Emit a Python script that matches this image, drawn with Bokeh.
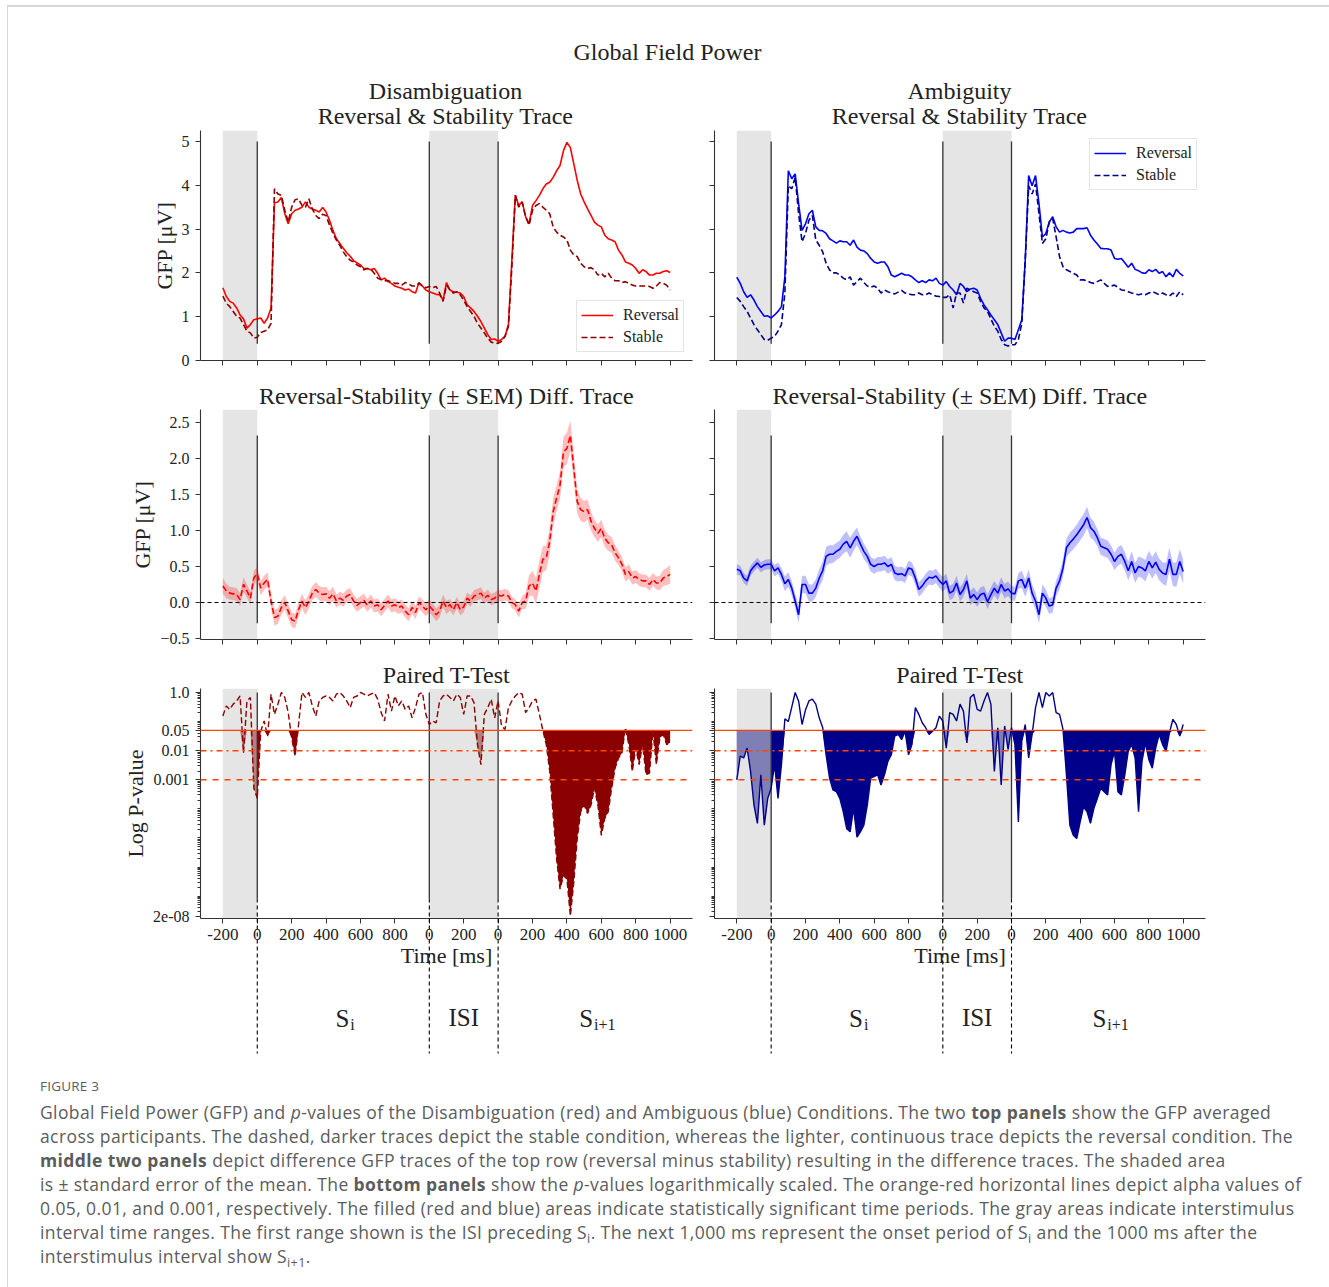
import numpy as np
from bokeh.plotting import figure
from bokeh.models import (Range1d, FixedTicker, BoxAnnotation, Span,
                          CustomJSTickFormatter, CustomLabelingPolicy, Div)
from bokeh.layouts import column, row
from bokeh.embed import file_html
from bokeh.resources import INLINE
from bokeh.core.properties import value

# ---------------------------------------------------------------- data
# concatenated time axis: ISI before S_i (-200..0), S_i (0..1000), ISI (1000..1400), S_i+1 (1400..2400)
time_ms = list(range(-200, 2401, 20))

x_tick_values = list(range(-200, 2401, 200))
x_tick_labels = ["-200", "0", "200", "400", "600", "800", "0", "200",
                 "0", "200", "400", "600", "800", "1000"]
isi_spans = [(-200, 0), (1000, 1400)]
phase_onsets = [0, 1000, 1400]
phase_names = [("S", "i", 500), ("ISI", "", 1200), ("S", "i+1", 1900)]
alpha_levels = [0.05, 0.01, 0.001]

gfp_reversal_disamb = [
    1.66, 1.46, 1.35, 1.31, 1.20, 1.04, 0.95, 0.74, 0.82, 0.93,
    0.95, 0.97, 0.85, 0.97, 1.20, 3.60, 3.62, 3.72, 3.35, 3.12,
    3.35, 3.43, 3.46, 3.50, 3.62, 3.50, 3.46, 3.43, 3.39, 3.49,
    3.39, 3.20, 2.97, 2.78, 2.67, 2.56, 2.46, 2.38, 2.28, 2.23,
    2.18, 2.10, 2.10, 2.07, 2.10, 1.99, 1.84, 1.88, 1.80, 1.76,
    1.70, 1.67, 1.65, 1.61, 1.63, 1.57, 1.54, 1.78, 1.70, 1.61,
    1.57, 1.54, 1.51, 1.50, 1.38, 1.78, 1.61, 1.57, 1.56, 1.54,
    1.46, 1.27, 1.20, 1.12, 1.01, 0.89, 0.74, 0.59, 0.48, 0.49,
    0.44, 0.48, 0.55, 0.82, 2.29, 3.77, 3.54, 3.62, 3.28, 3.12,
    3.54, 3.65, 3.77, 3.92, 4.03, 4.07, 4.18, 4.33, 4.45, 4.79,
    4.98, 4.86, 4.49, 4.11, 3.80, 3.62, 3.46, 3.31, 3.16, 3.09,
    3.05, 2.86, 2.78, 2.75, 2.71, 2.52, 2.41, 2.25, 2.22, 2.18,
    2.10, 1.99, 2.07, 2.03, 1.95, 1.95, 1.99, 1.99, 2.03, 2.05,
    2.01]
gfp_stable_disamb = [
    1.47, 1.31, 1.23, 1.12, 1.01, 0.97, 0.82, 0.67, 0.63, 0.51,
    0.53, 0.64, 0.67, 0.70, 0.85, 3.92, 3.80, 3.77, 3.43, 3.16,
    3.50, 3.67, 3.69, 3.54, 3.50, 3.69, 3.46, 3.31, 3.24, 3.34,
    3.31, 3.09, 2.90, 2.75, 2.63, 2.48, 2.37, 2.29, 2.25, 2.18,
    2.14, 2.07, 2.10, 2.08, 1.99, 1.88, 1.85, 1.82, 1.82, 1.80,
    1.76, 1.76, 1.72, 1.78, 1.75, 1.70, 1.70, 1.76, 1.70, 1.66,
    1.69, 1.66, 1.69, 1.54, 1.35, 1.72, 1.61, 1.54, 1.57, 1.50,
    1.38, 1.23, 1.12, 1.01, 0.85, 0.74, 0.63, 0.51, 0.42, 0.40,
    0.39, 0.44, 0.55, 0.78, 2.14, 3.77, 3.50, 3.62, 3.28, 3.09,
    3.43, 3.54, 3.58, 3.50, 3.43, 3.35, 3.05, 2.93, 2.86, 2.82,
    2.75, 2.52, 2.41, 2.37, 2.22, 2.14, 2.10, 2.12, 2.07, 1.95,
    1.99, 1.91, 1.99, 1.88, 1.82, 1.82, 1.78, 1.80, 1.76, 1.72,
    1.70, 1.70, 1.70, 1.70, 1.69, 1.65, 1.70, 1.78, 1.76, 1.72,
    1.61]
gfp_reversal_amb = [
    1.90, 1.76, 1.57, 1.44, 1.50, 1.38, 1.23, 1.12, 1.01, 1.02,
    0.97, 1.04, 1.12, 1.23, 1.91, 4.33, 4.15, 4.26, 3.58, 2.97,
    3.12, 3.35, 3.43, 3.05, 2.97, 2.96, 2.90, 2.78, 2.73, 2.68,
    2.73, 2.71, 2.71, 2.63, 2.75, 2.59, 2.52, 2.50, 2.44, 2.33,
    2.25, 2.22, 2.25, 2.25, 2.14, 1.95, 1.91, 1.95, 1.99, 1.95,
    1.95, 1.91, 1.84, 1.78, 1.82, 1.78, 1.84, 1.82, 1.88, 1.76,
    1.72, 1.80, 1.69, 1.61, 1.50, 1.76, 1.69, 1.57, 1.63, 1.65,
    1.61, 1.42, 1.27, 1.16, 1.04, 0.93, 0.82, 0.63, 0.44, 0.51,
    0.51, 0.48, 0.70, 0.93, 2.29, 4.22, 3.99, 4.22, 3.58, 2.82,
    2.90, 3.16, 3.28, 3.05, 2.93, 2.97, 2.93, 2.91, 2.93, 3.01,
    3.01, 3.01, 3.03, 2.86, 2.75, 2.66, 2.56, 2.55, 2.55, 2.52,
    2.33, 2.31, 2.33, 2.23, 2.13, 2.22, 2.08, 2.05, 2.00, 1.99,
    2.07, 2.03, 2.08, 1.99, 2.03, 1.91, 2.00, 1.91, 2.08, 1.99,
    1.93]
gfp_stable_amb = [
    1.44, 1.35, 1.23, 1.12, 0.97, 0.82, 0.70, 0.59, 0.48, 0.46,
    0.51, 0.55, 0.67, 0.82, 1.54, 3.99, 3.92, 4.18, 3.35, 2.71,
    2.90, 3.20, 3.31, 2.75, 2.63, 2.48, 2.22, 2.07, 2.00, 2.00,
    1.95, 1.88, 1.84, 1.91, 1.72, 1.80, 1.88, 1.78, 1.70, 1.67,
    1.70, 1.65, 1.54, 1.61, 1.57, 1.54, 1.52, 1.56, 1.60, 1.54,
    1.52, 1.50, 1.50, 1.54, 1.50, 1.50, 1.54, 1.50, 1.47, 1.46,
    1.44, 1.44, 1.50, 1.20, 1.54, 1.54, 1.31, 1.65, 1.61, 1.57,
    1.54, 1.35, 1.20, 1.12, 0.95, 0.78, 0.67, 0.48, 0.36, 0.33,
    0.36, 0.36, 0.48, 0.85, 2.29, 3.99, 3.80, 4.03, 3.35, 2.67,
    2.78, 3.16, 3.24, 2.82, 2.37, 2.14, 2.07, 2.03, 1.99, 1.95,
    1.84, 1.84, 1.82, 1.78, 1.76, 1.80, 1.84, 1.76, 1.69, 1.70,
    1.72, 1.67, 1.61, 1.60, 1.57, 1.54, 1.52, 1.50, 1.52, 1.50,
    1.54, 1.57, 1.54, 1.50, 1.54, 1.50, 1.47, 1.54, 1.46, 1.57,
    1.50]

diff_disamb = [
    0.23, 0.16, 0.13, 0.12, 0.11, 0.04, 0.25, 0.16, 0.06, 0.34,
    0.40, 0.20, 0.27, 0.32, 0.02, -0.21, -0.19, -0.07, 0.00, -0.12,
    -0.24, -0.26, -0.10, 0.02, -0.07, 0.02, 0.13, 0.18, 0.13, 0.11,
    0.12, 0.06, 0.12, 0.02, 0.06, 0.03, 0.09, 0.11, 0.02, -0.04,
    0.00, 0.03, -0.04, 0.02, -0.05, -0.03, -0.10, -0.04, 0.02, -0.05,
    -0.03, -0.07, -0.05, -0.12, -0.17, -0.07, -0.14, 0.00, -0.05, -0.10,
    -0.05, -0.10, -0.17, -0.12, 0.02, -0.07, -0.03, -0.10, 0.00, -0.10,
    -0.06, 0.06, 0.02, 0.09, 0.11, 0.13, 0.06, 0.10, 0.04, 0.06,
    0.10, 0.09, 0.11, 0.09, 0.00, -0.03, -0.12, 0.00, 0.02, 0.23,
    0.27, 0.16, 0.39, 0.60, 0.62, 0.85, 1.26, 1.45, 1.63, 2.09,
    2.14, 2.32, 1.86, 1.40, 1.29, 1.26, 1.29, 1.13, 1.03, 0.96,
    1.03, 0.89, 0.83, 0.80, 0.69, 0.62, 0.53, 0.39, 0.43, 0.34,
    0.36, 0.32, 0.30, 0.30, 0.25, 0.32, 0.27, 0.27, 0.34, 0.36,
    0.39]
sem_disamb = [
    0.11, 0.10, 0.09, 0.09, 0.09, 0.09, 0.10, 0.09, 0.09, 0.10,
    0.10, 0.10, 0.10, 0.10, 0.10, 0.11, 0.11, 0.10, 0.10, 0.10,
    0.10, 0.10, 0.10, 0.10, 0.10, 0.10, 0.10, 0.10, 0.10, 0.10,
    0.10, 0.10, 0.10, 0.09, 0.09, 0.09, 0.09, 0.09, 0.09, 0.09,
    0.09, 0.09, 0.09, 0.09, 0.09, 0.09, 0.09, 0.09, 0.09, 0.09,
    0.09, 0.09, 0.09, 0.09, 0.09, 0.09, 0.09, 0.09, 0.09, 0.09,
    0.09, 0.09, 0.09, 0.09, 0.09, 0.09, 0.08, 0.08, 0.08, 0.08,
    0.08, 0.08, 0.08, 0.08, 0.08, 0.08, 0.08, 0.08, 0.08, 0.08,
    0.08, 0.08, 0.08, 0.08, 0.08, 0.08, 0.09, 0.09, 0.11, 0.15,
    0.17, 0.18, 0.19, 0.18, 0.17, 0.18, 0.19, 0.18, 0.19, 0.21,
    0.22, 0.21, 0.19, 0.17, 0.16, 0.15, 0.14, 0.13, 0.12, 0.12,
    0.12, 0.12, 0.11, 0.11, 0.11, 0.10, 0.10, 0.10, 0.10, 0.09,
    0.09, 0.09, 0.09, 0.09, 0.09, 0.09, 0.09, 0.10, 0.11, 0.12,
    0.13]
diff_amb = [
    0.46, 0.44, 0.34, 0.30, 0.44, 0.50, 0.55, 0.49, 0.52, 0.53,
    0.53, 0.44, 0.48, 0.39, 0.26, 0.32, 0.20, 0.02, -0.17, 0.25,
    0.25, 0.13, 0.13, 0.20, 0.34, 0.44, 0.64, 0.67, 0.67, 0.71,
    0.74, 0.81, 0.85, 0.76, 0.85, 0.92, 0.81, 0.71, 0.64, 0.53,
    0.50, 0.53, 0.53, 0.55, 0.50, 0.53, 0.41, 0.39, 0.40, 0.37,
    0.48, 0.46, 0.34, 0.18, 0.23, 0.30, 0.35, 0.34, 0.37, 0.30,
    0.25, 0.30, 0.13, 0.16, 0.27, 0.11, 0.18, 0.30, 0.06, 0.11,
    0.04, 0.11, 0.13, 0.01, 0.11, 0.20, 0.13, 0.25, 0.16, 0.19,
    0.13, 0.12, 0.30, 0.32, 0.20, 0.34, 0.13, 0.02, -0.17, 0.13,
    0.06, -0.05, -0.03, 0.20, 0.30, 0.48, 0.76, 0.83, 0.88, 0.94,
    1.01, 1.08, 1.18, 1.04, 0.99, 0.90, 0.78, 0.76, 0.74, 0.67,
    0.57, 0.64, 0.67, 0.57, 0.44, 0.57, 0.41, 0.50, 0.48, 0.44,
    0.57, 0.48, 0.56, 0.46, 0.41, 0.39, 0.60, 0.39, 0.39, 0.57,
    0.43]
sem_amb = [
    0.07, 0.07, 0.07, 0.07, 0.07, 0.07, 0.07, 0.07, 0.07, 0.07,
    0.07, 0.08, 0.08, 0.09, 0.10, 0.10, 0.10, 0.10, 0.12, 0.12,
    0.12, 0.12, 0.12, 0.12, 0.12, 0.13, 0.13, 0.13, 0.12, 0.12,
    0.12, 0.13, 0.14, 0.14, 0.13, 0.12, 0.11, 0.11, 0.10, 0.10,
    0.10, 0.10, 0.10, 0.10, 0.10, 0.10, 0.10, 0.10, 0.10, 0.10,
    0.10, 0.10, 0.10, 0.10, 0.10, 0.10, 0.10, 0.10, 0.10, 0.10,
    0.10, 0.10, 0.10, 0.10, 0.10, 0.10, 0.10, 0.10, 0.10, 0.10,
    0.10, 0.10, 0.10, 0.10, 0.10, 0.10, 0.10, 0.10, 0.10, 0.10,
    0.10, 0.10, 0.11, 0.12, 0.12, 0.12, 0.12, 0.12, 0.12, 0.12,
    0.12, 0.11, 0.11, 0.11, 0.12, 0.12, 0.13, 0.14, 0.14, 0.14,
    0.15, 0.15, 0.15, 0.14, 0.13, 0.12, 0.12, 0.12, 0.12, 0.12,
    0.12, 0.13, 0.13, 0.13, 0.13, 0.14, 0.14, 0.14, 0.14, 0.15,
    0.15, 0.15, 0.15, 0.15, 0.15, 0.16, 0.16, 0.16, 0.17, 0.17,
    0.17]

log10_p_disamb = [
    -0.81, -0.46, -0.58, -0.40, -0.29, -0.12, -2.08, -0.29, -0.17, -3.29,
    -3.64, -1.33, -0.98, -1.50, -0.06, -0.75, -0.40, 0.00, -0.17, -0.69,
    -1.56, -2.19, -1.10, 0.00, -0.17, 0.00, -0.46, -0.81, -0.29, -0.17,
    -0.12, -0.17, -0.29, -0.06, 0.00, -0.12, -0.29, -0.52, -0.17, -0.12,
    0.00, -0.06, -0.12, -0.06, 0.00, -0.23, -0.69, -0.98, -0.06, -0.64,
    -0.12, -0.46, -0.29, -0.58, -0.46, -0.87, -0.52, -0.06, 0.00, -0.75,
    -1.10, -0.98, -1.04, -0.29, -0.12, -0.06, -0.17, -0.29, -0.06, -0.17,
    -0.75, -0.12, -0.12, -0.35, -1.79, -2.48, -0.75, -0.52, -0.23, -0.87,
    -0.29, -1.15, -1.27, -0.52, -0.29, -0.12, 0.00, -0.06, -0.69, -0.52,
    -0.29, -0.23, -0.75, -1.30, -1.79, -2.71, -4.21, -5.72, -6.76, -6.29,
    -6.41, -7.68, -6.52, -5.02, -4.10, -3.87, -4.16, -3.87, -3.29, -3.87,
    -4.91, -4.33, -4.10, -3.29, -2.60, -2.25, -2.08, -1.21, -1.79, -2.71,
    -1.91, -2.48, -1.79, -2.83, -2.77, -1.33, -2.48, -1.56, -1.44, -1.79,
    -1.73]
log10_p_amb = [
    -3.00, -2.19, -2.25, -1.91, -2.71, -3.87, -4.50, -2.83, -4.56, -3.64,
    -3.29, -2.48, -3.64, -2.48, -0.90, -1.00, -0.50, 0.00, -0.30, -1.10,
    -0.60, -0.29, -0.23, -0.40, -0.87, -1.20, -2.14, -2.94, -3.35, -3.41,
    -3.64, -4.10, -4.68, -4.79, -3.98, -4.97, -4.79, -4.56, -3.87, -2.94,
    -2.89, -2.83, -3.18, -2.83, -2.37, -2.14, -1.50, -1.44, -1.62, -1.33,
    -2.14, -1.79, -0.52, -0.75, -1.04, -1.21, -1.44, -1.33, -1.21, -0.81,
    -0.98, -1.91, -0.69, -0.75, -0.98, -0.40, -0.64, -1.73, -0.17, -0.06,
    -0.58, -0.64, -0.29, 0.00, -0.40, -2.71, -1.21, -3.18, -1.15, -1.96,
    -1.21, -1.79, -4.45, -1.67, -1.10, -2.25, -1.44, -0.52, 0.00, -0.52,
    0.00, -0.12, 0.00, -0.69, -0.75, -1.27, -2.83, -4.56, -4.91, -5.02,
    -4.45, -3.93, -4.10, -4.50, -3.98, -3.64, -3.29, -3.41, -3.52, -2.48,
    -2.02, -3.41, -3.52, -2.83, -2.02, -1.79, -2.25, -4.10, -2.37, -1.73,
    -2.31, -2.60, -1.91, -1.44, -1.79, -2.02, -1.39, -0.92, -1.10, -1.50,
    -1.10]

for arr in (gfp_reversal_disamb, gfp_stable_disamb, gfp_reversal_amb, gfp_stable_amb,
            diff_disamb, sem_disamb, diff_amb, sem_amb, log10_p_disamb, log10_p_amb):
    assert len(arr) == len(time_ms), len(arr)

SUB = '<sub style="font-size:0.72em; line-height:0; vertical-align:-0.3em;">%s</sub>'
caption_lines = [
    "Global Field Power (GFP) and <i>p</i>-values of the Disambiguation (red) and Ambiguous (blue) "
    "Conditions. The two <b>top panels</b> show the GFP averaged",
    "across participants. The dashed, darker traces depict the stable condition, whereas the lighter, "
    "continuous trace depicts the reversal condition. The",
    "<b>middle two panels</b> depict difference GFP traces of the top row (reversal minus stability) "
    "resulting in the difference traces. The shaded area",
    "is &plusmn; standard error of the mean. The <b>bottom panels</b> show the <i>p</i>-values "
    "logarithmically scaled. The orange-red horizontal lines depict alpha values of",
    "0.05, 0.01, and 0.001, respectively. The filled (red and blue) areas indicate statistically "
    "significant time periods. The gray areas indicate interstimulus",
    "interval time ranges. The first range shown is the ISI preceding S" + SUB % "i" + ". The next 1,000 ms "
    "represent the onset period of S" + SUB % "i" + " and the 1000 ms after the",
    "interstimulus interval show S" + SUB % "i+1" + ".",
]

# ---------------------------------------------------------------- style
SERIF = "Liberation Serif"
INK = "#222222"
AXC = "#333333"
TITLE_SIZE = "24px"
X_RANGE = (-330, 2530)
TOP_RANGE = (0, 5.25)
MID_RANGE = (-0.514, 2.68)
P_RANGE = (1.706e-8, 1.372)
FRAME_H = 230
STRIP_H = 147          # annotation strip below the bottom panels (frame bottom -> caption)
DASH_TOP = 20          # dashed phase lines start this many px above the bottom frame edge
DASH_END = 135         # ... and end this many px below it
NO_LABELS = "return new Set()"


def fmt(vals, labs):
    return CustomJSTickFormatter(args=dict(vals=vals, labs=labs), code="""
        for (let i = 0; i < vals.length; i++) {
            if (Math.abs(vals[i] - tick) <= Math.abs(vals[i]) * 1e-6 + 1e-15) { return labs[i]; }
        }
        return "";
    """)


def hide_labels(ax):
    ax.major_label_policy = CustomLabelingPolicy(code=NO_LABELS)
    ax.major_label_text_font_size = "1px"
    ax.major_label_standoff = 0


def p_at_px_above_bottom(px):
    lo, hi = np.log10(P_RANGE[0]), np.log10(P_RANGE[1])
    return float(10 ** (lo + px * (hi - lo) / FRAME_H))


def make_panel(col, kind):
    left = (col == 0)
    if kind == "top":
        yr, bt, bb, ytype = Range1d(*TOP_RANGE), 1, 10, "linear"
    elif kind == "mid":
        yr, bt, bb, ytype = Range1d(*MID_RANGE), 39, 9, "linear"
    else:
        yr, bt, bb, ytype = Range1d(*P_RANGE), 40, STRIP_H, "log"
    p = figure(frame_width=492 if left else 491, frame_height=FRAME_H,
               x_range=Range1d(*X_RANGE), y_range=yr, y_axis_type=ytype,
               min_border_left=192 if left else 14, min_border_right=8 if left else 116,
               min_border_top=bt, min_border_bottom=bb,
               toolbar_location=None, output_backend="svg",
               outline_line_color=None, background_fill_color="white",
               border_fill_color="white")
    p.grid.visible = False
    for ax in (p.xaxis[0], p.yaxis[0]):
        ax.axis_line_color = AXC
        ax.axis_line_width = 1.1
        ax.major_tick_line_color = AXC
        ax.minor_tick_line_color = AXC
        ax.major_tick_out = 5
        ax.major_tick_in = 0
        ax.minor_tick_out = 3
        ax.minor_tick_in = 0
        ax.major_label_text_font = SERIF
        ax.major_label_text_font_size = "16px"
        ax.major_label_text_color = INK
        ax.axis_label_text_font = SERIF
        ax.axis_label_text_font_size = "22px"
        ax.axis_label_text_font_style = "normal"
        ax.axis_label_text_color = INK
    p.xaxis.ticker = FixedTicker(ticks=x_tick_values, minor_ticks=[])
    p.xaxis.formatter = fmt(x_tick_values, x_tick_labels)
    if kind == "bottom":
        p.xaxis.major_label_text_font_size = "17px"
        p.xaxis.major_label_standoff = 5
        p.xaxis.axis_label = "Time [ms]"
        p.xaxis.axis_label_standoff = 0
    else:
        hide_labels(p.xaxis[0])

    if kind == "top":
        yv = [0, 1, 2, 3, 4, 5]
        yl = ["0", "1", "2", "3", "4", "5"]
        p.yaxis.ticker = FixedTicker(ticks=yv, minor_ticks=[])
        ylabel = "GFP [\u03bcV]"
        vext = (0.38, 5.0)
    elif kind == "mid":
        yv = [-0.5, 0, 0.5, 1.0, 1.5, 2.0, 2.5]
        yl = ["\u22120.5", "0.0", "0.5", "1.0", "1.5", "2.0", "2.5"]
        p.yaxis.ticker = FixedTicker(ticks=yv, minor_ticks=[])
        ylabel = "GFP [\u03bcV]"
        vext = (-0.29, 2.32)
    else:
        yv = [2e-8, 0.001, 0.01, 0.05, 1.0]
        yl = ["2e-08", "0.001", "0.01", "0.05", "1.0"]
        minors = [m * 10.0 ** k for k in range(-8, 1) for m in range(1, 10)
                  if P_RANGE[0] < m * 10.0 ** k < P_RANGE[1]]
        minors = [v for v in minors if all(abs(v - t) > 1e-6 * t for t in yv)]
        p.yaxis.ticker = FixedTicker(ticks=yv, minor_ticks=minors)
        ylabel = "Log P-value"
        vext = (p_at_px_above_bottom(DASH_TOP), 1.0)
    p.yaxis.formatter = fmt(yv, yl)
    if left:
        p.yaxis.major_label_standoff = 6
        p.yaxis.axis_label = ylabel
        p.yaxis.axis_label_standoff = 2
    else:
        hide_labels(p.yaxis[0])

    # interstimulus intervals
    for a, b in isi_spans:
        p.add_layout(BoxAnnotation(left=a, right=b, fill_color="#d3d3d3", fill_alpha=0.6,
                                   line_color=None, level="underlay"))
    # stimulus / ISI onsets
    p.segment(x0=phase_onsets, y0=[vext[0]] * 3, x1=phase_onsets, y1=[vext[1]] * 3,
              line_color=AXC, line_width=1.3)

    if kind == "top":
        rev, stb = (gfp_reversal_disamb, gfp_stable_disamb) if left else (gfp_reversal_amb, gfp_stable_amb)
        c_rev, c_stb = ("#FF0000", "#8B0000") if left else ("#0000FF", "#00008B")
        p.line(time_ms, rev, line_color=c_rev, line_width=1.6, legend_label="Reversal")
        p.line(time_ms, stb, line_color=c_stb, line_width=1.6, line_dash="6 3", legend_label="Stable")
        lg = p.legend[0]
        lg.location = "bottom_right" if left else "top_right"
        lg.margin = 8
        lg.padding = 4
        lg.spacing = 2
        lg.label_height = 20
        lg.glyph_height = 20
        lg.glyph_width = 32
        lg.label_standoff = 10
        lg.label_text_font = SERIF
        lg.label_text_font_size = "16px"
        lg.label_text_color = INK
        lg.border_line_color = "#cccccc"
        lg.background_fill_alpha = 0.8
    elif kind == "mid":
        mean = np.array(diff_disamb if left else diff_amb)
        sem = np.array(sem_disamb if left else sem_amb)
        c = "#FF0000" if left else "#0000FF"
        p.varea(x=time_ms, y1=mean - sem, y2=mean + sem, fill_color=c, fill_alpha=0.25)
        p.line(time_ms, mean, line_color=c, line_width=1.6, line_dash="6 3" if left else "solid")
        p.add_layout(Span(location=0, dimension="width", line_color="black",
                          line_dash="4 3", line_width=1))
        p.title.text = "Reversal-Stability (\u00b1 SEM) Diff. Trace"
    else:
        pv = 10 ** np.array(log10_p_disamb if left else log10_p_amb)
        c = "#8B0000" if left else "#00008B"
        r = p.varea(x=time_ms, y1=np.minimum(pv, alpha_levels[0]),
                    y2=[alpha_levels[0]] * len(time_ms), fill_color=c, fill_alpha=1.0)
        r.level = "image"
        p.line(time_ms, pv, line_color=c, line_width=1.4, line_dash="6 3" if left else "solid")
        for lvl, dash in zip(alpha_levels, ["solid", "dashdot", "dashed"]):
            p.add_layout(Span(location=lvl, dimension="width", line_color="#FF4500",
                              line_width=1.4, line_dash=dash))
        # dashed phase markers begin inside the frame and continue in the strip below
        p.segment(x0=phase_onsets, y0=[vext[0]] * 3, x1=phase_onsets, y1=[P_RANGE[0]] * 3,
                  line_color="black", line_width=1.1, line_dash="4 3")
        p.title.text = "Paired T-Test"
    if kind != "top":
        p.title.align = "center"
        p.title.text_font = SERIF
        p.title.text_font_size = TITLE_SIZE
        p.title.text_font_style = "normal"
        p.title.text_color = INK
        p.title.standoff = 2
    return p


def make_strip(col):
    """transparent strip laid over the area below the bottom panels: phase markers and names"""
    left = (col == 0)
    s = figure(frame_width=492 if left else 491, frame_height=STRIP_H,
               x_range=Range1d(*X_RANGE), y_range=Range1d(STRIP_H, 0),
               min_border_left=192 if left else 14, min_border_right=8 if left else 116,
               min_border_top=0, min_border_bottom=0,
               toolbar_location=None, output_backend="svg", outline_line_color=None,
               background_fill_color=None, border_fill_color=None,
               x_axis_location=None, y_axis_location=None)
    s.grid.visible = False
    s.segment(x0=phase_onsets, y0=[0] * 3, x1=phase_onsets, y1=[DASH_END] * 3,
              line_color="black", line_width=1.1, line_dash="4 3")
    for main, sub, xm in phase_names:
        if sub:
            off = 6 if sub == "i" else 9
            s.text(x=[xm], y=[100], text=[main], text_align="right", text_baseline="middle",
                   x_offset=off, text_font=value(SERIF), text_font_size="25px", text_color=INK)
            s.text(x=[xm], y=[106], text=[sub], text_align="left", text_baseline="middle",
                   x_offset=off + 1, text_font=value(SERIF), text_font_size="16px", text_color=INK)
        else:
            s.text(x=[xm], y=[99], text=[main], text_align="center", text_baseline="middle",
                   text_font=value(SERIF), text_font_size="25px", text_color=INK)
    return s


# ---------------------------------------------------------------- header
header = figure(width=1321, height=122, x_range=Range1d(0, 1321), y_range=Range1d(122, 0),
                min_border=0, toolbar_location=None, output_backend="svg",
                outline_line_color=None, x_axis_location=None, y_axis_location=None)
header.grid.visible = False
header.text(x=[659], y=[44], text=["Global Field Power"], text_align="center",
            text_baseline="middle", text_font=value(SERIF), text_font_size=TITLE_SIZE, text_color=INK)
header.text(x=[437, 437, 951, 951], y=[83, 108, 83, 108],
            text=["Disambiguation", "Reversal & Stability Trace", "Ambiguity", "Reversal & Stability Trace"],
            text_align="center", text_baseline="middle", text_font=value(SERIF),
            text_font_size=TITLE_SIZE, text_color=INK)

tl, tr = make_panel(0, "top"), make_panel(1, "top")
ml, mr = make_panel(0, "mid"), make_panel(1, "mid")
bl, br = make_panel(0, "bottom"), make_panel(1, "bottom")
sl, sr = make_strip(0), make_strip(1)

caption_html = (
    '<div style="font-family:\'Open Sans\', sans-serif; color:#5c5c5c; padding:7px 0 0 27px;">'
    '<div style="font-size:13.5px; line-height:18px; margin-bottom:5px; letter-spacing:0.2px;">FIGURE 3</div>'
    '<div style="font-size:17.5px; line-height:24px; letter-spacing:0.4px; white-space:nowrap;">'
    + "<br>".join(caption_lines) +
    '</div></div>'
)
caption = Div(text=caption_html, width=1313, height=212)

layout = column(header, row(tl, tr), row(ml, mr), row(bl, br),
                row(sl, sr, styles={"margin-top": "-%dpx" % STRIP_H}),
                caption,
                styles={"margin-top": "5px", "margin-left": "7px",
                        "border-top": "2px solid #d6d6d6", "border-left": "1px solid #d6d6d6"})

open("out.html", "w").write(file_html(layout, INLINE, title="Global Field Power"))
